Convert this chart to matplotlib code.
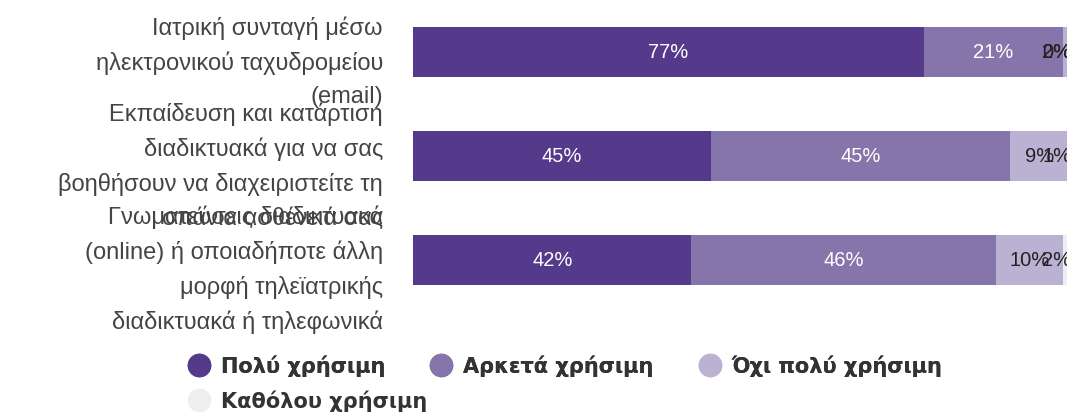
import numpy as np
import matplotlib.pyplot as plt
from matplotlib.lines import Line2D
from matplotlib.transforms import offset_copy

plt.rcParams['font.family'] = ['Liberation Sans', 'DejaVu Sans']

categories = [
    'Ιατρική συνταγή μέσω\nηλεκτρονικού ταχυδρομείου\n(email)',
    'Εκπαίδευση και κατάρτιση\nδιαδικτυακά για να σας\nβοηθήσουν να διαχειριστείτε τη\nσπάνια ασθένειά σας',
    'Γνωματεύσεις διαδικτυακά\n(online) ή οποιαδήποτε άλλη\nμορφή τηλεϊατρικής\nδιαδικτυακά ή τηλεφωνικά',
]
series = ['Πολύ χρήσιμη', 'Αρκετά χρήσιμη', 'Όχι πολύ χρήσιμη', 'Καθόλου χρήσιμη']
values = np.array([
    [77, 21, 2, 0],
    [45, 45, 9, 1],
    [42, 46, 10, 2],
])
colors = ['#55398a', '#8675aa', '#bbb1d2', '#eeeeee']
label_colors = ['white', 'white', '#222222', '#222222']

fig = plt.figure(figsize=(10.67, 4.17), dpi=100)
ax = fig.add_axes([413/1067, 105/417, 663/1067, 312/417])

y = np.arange(len(categories))
left = np.zeros(len(categories))
for j, name in enumerate(series):
    ax.barh(y, values[:, j], left=left, height=0.48, color=colors[j], label=name)
    for i in range(len(categories)):
        cx = min(left[i] + values[i, j] / 2, 97.1)
        ax.text(cx, y[i], f'{values[i, j]}%', ha='center', va='center',
                fontsize=14.5, color=label_colors[j])
    left += values[:, j]

ax.set_xlim(0, 100)
ax.set_ylim(2.5, -0.5)
ax.axis('off')

lab_tr = offset_copy(ax.get_yaxis_transform(), fig=fig, x=-30, y=-10, units='dots')
for i, cat in enumerate(categories):
    ax.text(0, y[i], cat, transform=lab_tr, ha='right', va='center',
            fontsize=17, color='#444444', linespacing=1.64)

# legend: two rows, each item sized by its own text (3 on the first row, 1 on the second)
handles = [Line2D([], [], marker='o', linestyle='none', markersize=16,
                  markerfacecolor=c, markeredgecolor=c) for c in colors]
leg_kw = dict(loc='center left', frameon=False, borderpad=0, handletextpad=0.45,
              handlelength=1.2, columnspacing=2.1, labelcolor='#333333',
              prop={'family': 'DejaVu Sans', 'weight': 'bold', 'size': 15})
leg1 = fig.legend(handles[:3], series[:3], ncol=3,
                  bbox_to_anchor=(176/1067, 1 - 366/417), **leg_kw)
fig.add_artist(leg1)
fig.legend(handles[3:], series[3:], ncol=1,
           bbox_to_anchor=(176/1067, 1 - 401/417), **leg_kw)

plt.savefig('out.png')
